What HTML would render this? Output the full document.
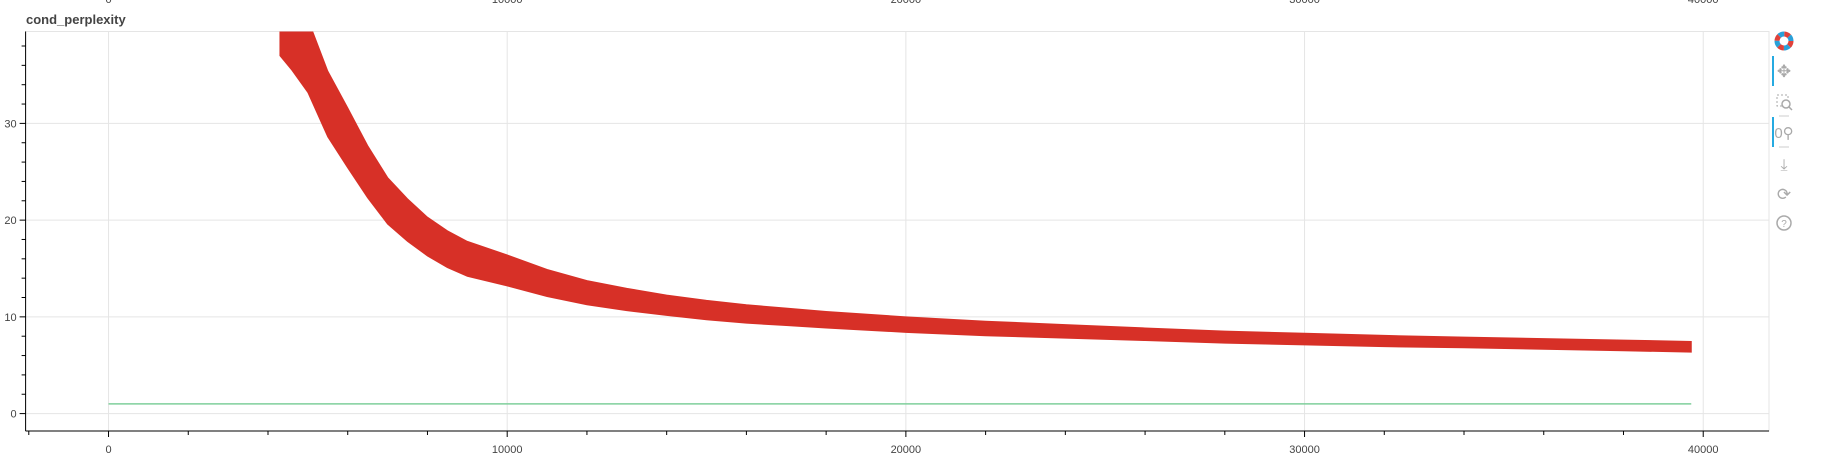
<!DOCTYPE html>
<html><head><meta charset="utf-8"><style>
body{margin:0;background:#fff;width:1827px;height:465px;overflow:hidden;font-family:"Liberation Sans",sans-serif}
svg text{font-family:"Liberation Sans",sans-serif}
</style></head><body>
<svg id="chart" width="1827" height="465" xmlns="http://www.w3.org/2000/svg">
<text x="26" y="24" font-size="13" font-weight="bold" fill="#444">cond_perplexity</text>
<g id="grid"></g><g id="series"></g><g id="axes"></g>
<g transform="translate(1784,0)">
 <g transform="translate(0,41)">
  <circle r="7" fill="none" stroke="#e0413a" stroke-width="5" stroke-dasharray="5.5 5.5"/>
  <circle r="7" fill="none" stroke="#2aa0d8" stroke-width="5" stroke-dasharray="5.5 5.5" stroke-dashoffset="5.5"/>
  <circle r="3.5" fill="#fff"/>
 </g>
 <rect x="-12" y="56" width="2" height="30" fill="#26aae1"/>
 <text x="0" y="77" font-size="17" fill="#aaa" text-anchor="middle">✥</text>
 <g><rect x="-7" y="95" width="11" height="11" fill="none" stroke="#aaa" stroke-dasharray="2 2"/><circle cx="2" cy="104" r="4" fill="#fff" stroke="#aaa" stroke-width="1.5"/><line x1="5" y1="107" x2="8" y2="110" stroke="#aaa" stroke-width="1.5"/></g>
 <line x1="-5" y1="116" x2="5" y2="116" stroke="#ccc"/>
 <rect x="-12" y="117" width="2" height="30" fill="#26aae1"/>
 <text x="0" y="138" font-size="15" fill="#aaa" text-anchor="middle">0⚲</text>
 <line x1="-5" y1="147" x2="5" y2="147" stroke="#ccc"/>
 <text x="0" y="170" font-size="16" fill="#aaa" text-anchor="middle">⤓</text>
 <text x="0" y="200" font-size="17" fill="#aaa" text-anchor="middle">⟳</text>
 <g><circle cx="0" cy="223" r="7" fill="none" stroke="#aaa" stroke-width="1.5"/><text x="0" y="227" font-size="10" fill="#aaa" text-anchor="middle">?</text></g>
</g>
</svg>
<script>
const xSteps=[4300,4600,5000,5500,6000,6500,7000,7500,8000,8500,9000,10000,11000,12000,13000,14000,15000,16000,17000,18000,20000,22000,24000,26000,28000,30000,32000,34000,36000,38000,39700];
const meanVals=[41,39.5,37,32,28.5,25,22,20,18.3,17,16,14.8,13.5,12.5,11.8,11.2,10.7,10.3,10,9.7,9.2,8.8,8.5,8.2,7.9,7.7,7.5,7.35,7.2,7.05,6.9];
const halfWidth=[4,4,3.8,3.4,3.1,2.7,2.4,2.2,2.0,1.9,1.8,1.6,1.4,1.25,1.15,1.05,1,0.95,0.9,0.85,0.8,0.75,0.7,0.65,0.62,0.6,0.58,0.55,0.55,0.55,0.55];
const refX=[0,39700];
const refY=[1,1];
const xTicks=[0,10000,20000,30000,40000];
const yTicks=[0,10,20,30];

const L=25.6,R=1769,T=31.5,B=431;
const X0=-2080,X1=41650,Y0=-1.8,Y1=39.5;
const sx=v=>L+(v-X0)/(X1-X0)*(R-L);
const sy=v=>B-(v-Y0)/(Y1-Y0)*(B-T);
const NS='http://www.w3.org/2000/svg';
function mk(parent,tag,attrs){const e=document.createElementNS(NS,tag);for(const k in attrs)e.setAttribute(k,attrs[k]);document.getElementById(parent).appendChild(e);return e;}

const cp=mk('grid','clipPath',{id:'clip'});
const cr=document.createElementNS(NS,'rect');
cr.setAttribute('x',L);cr.setAttribute('y',T);cr.setAttribute('width',R-L);cr.setAttribute('height',B-T);
cp.appendChild(cr);

let frame=mk('grid','rect',{x:L,y:T,width:R-L,height:B-T,fill:'none',stroke:'#e5e5e5'});


xTicks.forEach(v=>{let g=mk('grid','line',{x1:sx(v),x2:sx(v),y1:T,y2:B,stroke:'#e5e5e5'});

});
yTicks.forEach(v=>{let g=mk('grid','line',{x1:L,x2:R,y1:sy(v),y2:sy(v),stroke:'#e5e5e5'});

});

let up=xSteps.map((x,i)=>sx(x)+','+sy(meanVals[i]+halfWidth[i]));
let dn=xSteps.map((x,i)=>sx(x)+','+sy(meanVals[i]-halfWidth[i])).reverse();
let band=mk('series','polygon',{points:up.concat(dn).join(' '),fill:'#d73027','stroke':'#d73027','stroke-width':1,'clip-path':'url(#clip)'});


let ref=mk('series','polyline',{points:refX.map((x,i)=>sx(x)+','+sy(refY[i])).join(' '),fill:'none',stroke:'#7fcf9b','stroke-width':1.5});



let xa=mk('axes','line',{x1:L,x2:R,y1:B,y2:B,stroke:'#000'});


let ya=mk('axes','line',{x1:L,x2:L,y1:T,y2:B,stroke:'#000'});


for(let v=-2000;v<=40000;v+=2000){const maj=v%10000===0;mk('axes','line',{x1:sx(v),x2:sx(v),y1:B,y2:B+(maj?6:4),stroke:'#000'});}
for(let v=0;v<=38;v+=2){const maj=v%10===0;mk('axes','line',{x1:L-(maj?6:4),x2:L,y1:sy(v),y2:sy(v),stroke:'#000'});}
xTicks.forEach(v=>{let t=mk('axes','text',{x:sx(v),y:B+22,'font-size':11,fill:'#444','text-anchor':'middle'});t.textContent=v;


let t2=mk('axes','text',{x:sx(v),y:3,'font-size':11,fill:'#444','text-anchor':'middle'});t2.textContent=v;

});
yTicks.forEach(v=>{let t=mk('axes','text',{x:L-9,y:sy(v)+4,'font-size':11,fill:'#444','text-anchor':'end'});t.textContent=v;

});
</script>
</body></html>
